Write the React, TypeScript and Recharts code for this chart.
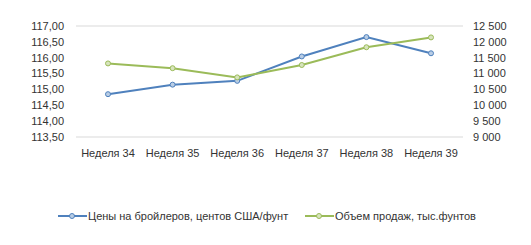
import React from "react";
import { LineChart, Line, XAxis, YAxis, CartesianGrid, Legend } from "recharts";

const weeks = ["Неделя 34", "Неделя 35", "Неделя 36", "Неделя 37", "Неделя 38", "Неделя 39"];
const prices = [114.85, 115.15, 115.27, 116.04, 116.65, 116.14];
const sales = [11320, 11170, 10880, 11270, 11830, 12140];
const priceTicks = [113.5, 114, 114.5, 115, 115.5, 116, 116.5, 117];
const salesTicks = [9000, 9500, 10000, 10500, 11000, 11500, 12000, 12500];

const PRICE_NAME = "Цены на бройлеров, центов США/фунт";
const SALES_NAME = "Объем продаж, тыс.фунтов";

const BLUE = "#4F81BD";
const GREEN = "#9BBB59";
const FONT = "'Liberation Sans', Arial, sans-serif";

const data = weeks.map((w, i) => ({ week: w, price: prices[i], sales: sales[i] }));

const fmtPrice = (v: number) => v.toFixed(2).replace(".", ",");
const fmtSales = (v: number) => String(v).replace(/\B(?=(\d{3})+(?!\d))/g, " ");

const legendItems = [
  { name: PRICE_NAME, color: BLUE, fill: "#B9CDE5", x: 58 },
  { name: SALES_NAME, color: GREEN, fill: "#D7E4BD", x: 305 },
];

const CustomLegend = () => (
  <svg width={531} height={20}>
    {legendItems.map((it) => (
      <g key={it.name}>
        <line x1={it.x} x2={it.x + 29} y1={9} y2={9} stroke={it.color} strokeWidth={2} />
        <circle cx={it.x + 14} cy={9} r={2.5} fill={it.fill} stroke={it.color} strokeWidth={1} />
        <text x={it.x + 30} y={13} fontSize={11} fontFamily={FONT} fill="#333">
          {it.name}
        </text>
      </g>
    ))}
  </svg>
);

export default function App() {
  return (
    <div style={{ position: "absolute", left: 0, top: 0, width: 531, height: 245, background: "#fff" }}>
      <LineChart width={531} height={245} data={data} margin={{ top: 26, right: 0, bottom: 0, left: 0 }}>
        <CartesianGrid vertical={false} stroke="#D9D9D9" />
        <XAxis
          dataKey="week"
          axisLine={false}
          tickLine={false}
          tickMargin={6}
          height={108}
          interval={0}
          padding={{ left: 32, right: 32 }}
          tick={{ fontSize: 11, fontFamily: FONT, fill: "#333" }}
        />
        <YAxis
          yAxisId="left"
          width={76}
          domain={[113.5, 117]}
          ticks={priceTicks}
          interval={0}
          tickFormatter={fmtPrice}
          axisLine={false}
          tickLine={false}
          tickMargin={6}
          tick={{ fontSize: 11, fontFamily: FONT, fill: "#333" }}
        />
        <YAxis
          yAxisId="right"
          orientation="right"
          width={68}
          domain={[9000, 12500]}
          ticks={salesTicks}
          interval={0}
          tickFormatter={fmtSales}
          axisLine={false}
          tickLine={false}
          tickMargin={4}
          tick={{ fontSize: 11, fontFamily: FONT, fill: "#333", textAnchor: "start" }}
        />
        <Legend
          verticalAlign="middle"
          layout="horizontal"
          wrapperStyle={{ position: "absolute", top: 207, left: 0, width: 531 }}
          content={<CustomLegend />}
        />
        <Line
          yAxisId="left"
          dataKey="price"
          name={PRICE_NAME}
          stroke={BLUE}
          strokeWidth={2}
          dot={{ r: 2.5, fill: "#B9CDE5", stroke: BLUE, strokeWidth: 1 }}
          isAnimationActive={false}
        />
        <Line
          yAxisId="right"
          dataKey="sales"
          name={SALES_NAME}
          stroke={GREEN}
          strokeWidth={2}
          dot={{ r: 2.5, fill: "#D7E4BD", stroke: GREEN, strokeWidth: 1 }}
          isAnimationActive={false}
        />
      </LineChart>
    </div>
  );
}
